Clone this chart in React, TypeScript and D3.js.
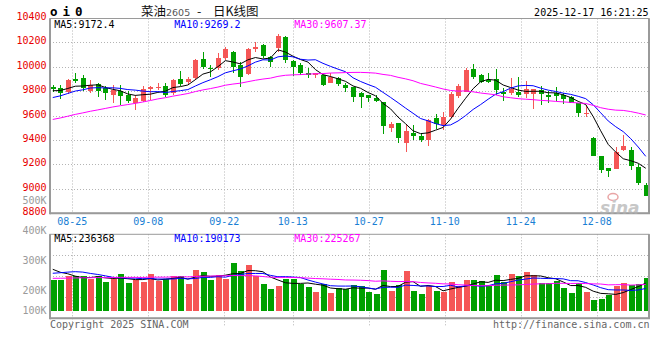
import React from "react";
import * as d3 from "d3";

const W = 660;
const H = 360;

// Trading days shown (2025)
const dates = [
  "08-20","08-21","08-22","08-25","08-26","08-27","08-28","08-29",
  "09-01","09-02","09-03","09-04","09-05","09-08","09-09","09-10","09-11","09-12",
  "09-15","09-16","09-17","09-18","09-19","09-22","09-23","09-24","09-25","09-26","09-29","09-30",
  "10-09","10-10","10-13","10-14","10-15","10-16","10-17","10-20","10-21","10-22","10-23","10-24",
  "10-27","10-28","10-29","10-30","10-31",
  "11-03","11-04","11-05","11-06","11-07","11-10","11-11","11-12","11-13","11-14",
  "11-17","11-18","11-19","11-20","11-21","11-24","11-25","11-26","11-27","11-28",
  "12-01","12-02","12-03","12-04","12-05","12-08","12-09","12-10","12-11","12-12",
  "12-15","12-16","12-17"
];

const opens = [
  9835,9824,9797,9903,9908,9805,9859,9824,9769,9802,
  9767,9704,9723,9821,9829,9843,9783,9898,9876,9906,
  10061,9988,9988,10075,10119,10015,9941,10143,10179,10078,
  10152,10247,10050,10015,9952,9935,9933,9870,9906,9851,
  9838,9788,9772,9747,9715,9502,9543,9373,9461,9434,
  9401,9581,9524,9586,9764,9797,9980,9933,9892,9900,
  9797,9788,9797,9777,9777,9810,9769,9788,9769,9750,
  9701,9619,9420,9270,9171,9163,9319,9319,9182,9032
];
const highs = [
  9851,9851,9903,9947,9936,9892,9865,9843,9851,9851,
  9805,9767,9843,9843,9870,9870,9898,9963,9919,10061,
  10119,10015,10116,10165,10125,10037,10152,10201,10185,10091,
  10269,10252,10056,10029,9988,9952,9933,9952,9919,9865,
  9838,9790,9772,9769,9715,9545,9543,9529,9524,9455,
  9570,9614,9633,9797,9859,9993,10023,9939,9952,9980,
  9824,9906,9914,9887,9816,9846,9805,9838,9788,9761,
  9701,9687,9425,9270,9171,9341,9442,9341,9204,9046
];
const lows = [
  9797,9737,9775,9865,9802,9783,9756,9728,9706,9687,
  9706,9646,9715,9728,9810,9756,9769,9843,9851,9892,
  9979,9919,9975,10056,9952,9838,9933,10124,10070,10001,
  10124,10034,9928,9933,9906,9906,9846,9865,9843,9797,
  9709,9666,9715,9715,9447,9469,9373,9300,9401,9387,
  9354,9488,9483,9578,9742,9791,9900,9865,9865,9769,
  9723,9769,9756,9742,9655,9687,9701,9720,9696,9707,
  9586,9592,9268,9133,9100,9163,9313,9155,9032,8945
];
const closes = [
  9818,9788,9895,9887,9824,9849,9805,9788,9810,9764,
  9720,9745,9816,9832,9837,9769,9892,9857,9898,10056,
  9996,9980,10072,10146,10001,9919,10146,10165,10089,10037,
  10255,10056,9996,9952,9933,9945,9851,9919,9859,9829,
  9756,9756,9747,9723,9518,9532,9420,9474,9434,9401,
  9565,9529,9586,9777,9843,9974,9920,9873,9873,9810,
  9777,9816,9769,9818,9816,9777,9756,9764,9737,9707,
  9619,9625,9272,9155,9150,9305,9352,9191,9051,8945
];
const volumes = [
  263000,263000,295000,298000,298000,268000,298000,246000,272000,315000,
  238000,263000,246000,315000,255000,272000,298000,298000,229000,349000,
  332000,263000,306000,272000,412000,340000,392000,298000,229000,186000,
  212000,272000,272000,229000,203000,160000,229000,152000,197000,183000,
  220000,212000,160000,143000,349000,169000,220000,340000,169000,143000,
  212000,169000,160000,246000,212000,263000,263000,255000,220000,306000,
  246000,315000,298000,332000,306000,238000,238000,255000,195000,152000,
  238000,160000,92000,100000,135000,212000,238000,220000,229000,283000
];

// Sessions before the first visible day, estimated from where the MA lines start
const priorCloses = [
  9430,9462,9440,9455,9450,9468,9432,9445,9460,9430,
  9455,9480,9470,9442,9475,9510,9540,9565,9580,9590,
  9650,9700,9690,9720,9700,9780,9810,9795,9815
];
const priorVolumes = [
  250000,262000,245000,270000,255000,248000,266000,240000,258000,262000,
  251000,270000,244000,259000,263000,250000,248000,262000,257000,260000,
  220000,240000,260000,335000,380000,390000,360000,400000,362000
];

const axisDates = ["08-25","09-08","09-22","10-13","10-27","11-10","11-24","12-08"];
const priceTicks = [10400,10200,10000,9800,9600,9400,9200,9000,8800];
const volTicks = [500000,400000,300000,200000,100000];
const volTickLabels = ["500K","400K","300K","200K","100K"];
const maPeriods = [5,10,30];
const maColors = ["#000000","#0000ff","#ff00ff"];
const priceMALabels = ["MA5:9172.4","MA10:9269.2","MA30:9607.37"];
const volMALabels = ["MA5:236368","MA10:190173","MA30:225267"];

const RED = "#f55656";
const GREEN = "#00a000";
const MONO = "'DejaVu Sans Mono', monospace";
const GRID = "#b4b4b4";
const FRAME = "#9a9a9a";

function movingAvg(prior: number[], vals: number[], n: number): number[] {
  const all = [...prior, ...vals];
  const np = prior.length;
  return vals.map((_, i) => d3.mean(all.slice(i + np - n + 1, i + np + 1)) as number);
}

export default function App() {
  // panels
  const pL = 50, pR = 649, pT = 18.5, pB = 213.3;
  const vT = 234.3, vB = 318.3;

  const x = d3.scaleBand<string>().domain(dates).range([49, 649.5]).padding(0);
  const cx = (d: string) => (x(d) as number) + x.bandwidth() / 2;
  const y = d3.scaleLinear().domain([8800, 10400]).range([213.3, 17.9]);
  const yv = d3.scaleLinear().domain([0, 655000]).range([310.7, 234.3]);
  const volLabelY = d3.scaleLinear().domain([0, 500000]).range([350.7, 200.7]);
  const gx = d3
    .scaleLinear()
    .domain([dates.indexOf(axisDates[0]), dates.indexOf(axisDates[axisDates.length - 1])])
    .range([72.3, 596.7]);

  const priceMA = maPeriods.map((n) => movingAvg(priorCloses, closes, n));
  const volMA = maPeriods.map((n) => movingAvg(priorVolumes, volumes, n));

  const linePrice = d3
    .line<number>()
    .x((_, i) => cx(dates[i]))
    .y((v) => y(v));
  const lineVol = d3
    .line<number>()
    .x((_, i) => cx(dates[i]))
    .y((v) => yv(v));

  const hGrid = priceTicks.slice(1, -1);
  const vGridVol = d3.range(1, 4).map((k) => vT + ((vB - vT) * k) / 4);

  return (
    <svg
      width={W}
      height={H}
      viewBox={`0 0 ${W} ${H}`}
      style={{ position: "absolute", left: 0, top: 0, background: "#fff" }}
      fontFamily={MONO}
    >
      <rect x={0} y={0} width={W} height={H} fill="#fff" />

      {/* header */}
      <text x={50} y={16} fontSize={12.5} fontWeight="bold" fill="#000" letterSpacing={-1.3}>
        o i 0
      </text>
      <text y={15.5} fontFamily="'Noto Sans CJK SC', sans-serif" fontSize={12.5} fill="#111">
        <tspan x={141}>菜油</tspan>
        <tspan x={166} fontFamily="'DejaVu Sans', sans-serif" fontSize={9.5} fill="#555">2605</tspan>
        <tspan x={197}>-</tspan>
        <tspan x={213}>日K线图</tspan>
      </text>
      <text x={648.5} y={15.5} textAnchor="end" fontSize={10} fill="#000">
        2025-12-17 16:21:25
      </text>

      {/* price grid */}
      {hGrid.map((t) => (
        <line key={"hg" + t} x1={pL} x2={pR} y1={Math.round(y(t)) + 0.5} y2={Math.round(y(t)) + 0.5}
          stroke={GRID} strokeDasharray="1,2" />
      ))}
      {axisDates.map((d) => {
        const gxp = Math.round(gx(dates.indexOf(d))) + 0.5;
        return (
          <g key={"vg" + d}>
            <line x1={gxp} x2={gxp} y1={pT} y2={pB} stroke={GRID} strokeDasharray="1,2" />
            <line x1={gxp} x2={gxp} y1={vT} y2={vB + 7} stroke={GRID} strokeDasharray="1,2" />
          </g>
        );
      })}
      {vGridVol.map((gy, k) => (
        <line key={"vv" + k} x1={pL} x2={pR} y1={Math.round(gy) + 0.5} y2={Math.round(gy) + 0.5}
          stroke={GRID} strokeDasharray="1,2" />
      ))}

      {/* price axis labels */}
      {priceTicks.map((t) => (
        <text key={"pt" + t} x={46.5} y={y(t) + 2} textAnchor="end" fontSize={10} fill="#e80000">
          {t}
        </text>
      ))}
      {volTicks.map((t, i) => (
        <text key={"vt" + t} x={46.5} y={Math.min(volLabelY(t), 310.3) + 3.6} textAnchor="end"
          fontSize={10} fill="#9a9a9a">
          {volTickLabels[i]}
        </text>
      ))}

      {/* x axis labels */}
      {axisDates.map((d) => (
        <text key={"xl" + d} x={gx(dates.indexOf(d))} y={224.8} textAnchor="middle" fontSize={10} fill="#1a7fd4">
          {d}
        </text>
      ))}

      {/* candles */}
      {dates.map((d, i) => {
        const o = opens[i], c = closes[i];
        const up = c >= o;
        const col = up ? RED : GREEN;
        const xc = Math.round(cx(d));
        const top = y(Math.max(o, c));
        const bot = y(Math.min(o, c));
        return (
          <g key={"c" + d} shapeRendering="crispEdges">
            <line x1={xc + 0.5} x2={xc + 0.5} y1={y(highs[i])} y2={y(lows[i])} stroke={col} />
            <rect x={xc - 2} y={top} width={5} height={Math.max(1, bot - top)} fill={col} />
          </g>
        );
      })}

      {/* price MAs */}
      {priceMA.map((m, k) => (
        <path key={"pm" + k} d={linePrice(m) || ""} fill="none" stroke={maColors[k]} strokeWidth={1} />
      ))}

      {/* volume bars */}
      {dates.map((d, i) => {
        const up = closes[i] >= opens[i];
        const xc = Math.round(cx(d));
        return (
          <rect key={"v" + d} x={xc - 2.5} y={yv(volumes[i])} width={6}
            height={yv(0) - yv(volumes[i])} fill={up ? RED : GREEN} shapeRendering="crispEdges" />
        );
      })}
      {volMA.map((m, k) => (
        <path key={"vm" + k} d={lineVol(m) || ""} fill="none" stroke={maColors[k]} strokeWidth={1} />
      ))}

      {/* frames */}
      <rect x={pL} y={pT} width={pR - pL} height={pB - pT} fill="none" stroke={FRAME} strokeWidth={1} />
      <line x1={pL} x2={pL} y1={pT} y2={pB + 1} stroke={FRAME} strokeWidth={2} />
      <line x1={pL} x2={pR + 1} y1={pB} y2={pB} stroke={FRAME} strokeWidth={2} />
      <line x1={pR} x2={pR} y1={pT} y2={pB} stroke={FRAME} strokeWidth={2} />
      <rect x={pL} y={vT} width={pR - pL} height={vB - vT} fill="none" stroke={FRAME} strokeWidth={1} />
      <line x1={pL} x2={pL} y1={vT} y2={vB + 1} stroke={FRAME} strokeWidth={2} />
      <line x1={pL} x2={pR + 1} y1={vB} y2={vB} stroke={FRAME} strokeWidth={2} />
      <line x1={pR} x2={pR} y1={vT} y2={vB} stroke={FRAME} strokeWidth={2} />

      {/* MA headers */}
      {priceMALabels.map((s, k) => (
        <text key={"ph" + k} x={54.3 + k * 120} y={27.6} fontSize={10} fill={maColors[k]}>
          {s}
        </text>
      ))}
      {volMALabels.map((s, k) => (
        <text key={"vh" + k} x={54.3 + k * 120} y={242} fontSize={10} fill={maColors[k]}>
          {s}
        </text>
      ))}

      {/* watermark */}
      <g opacity={0.7}>
        <ellipse cx={613} cy={197} rx={5} ry={3.5} fill="none" stroke="#e08080" strokeWidth={1.5} />
        <text x={600} y={214} fontFamily="'DejaVu Sans', sans-serif" fontSize={17} fontWeight="bold"
          fontStyle="italic" fill="#b0b0b0">
          sina
        </text>
      </g>

      {/* footer */}
      <text x={50} y={327.6} fontSize={10} fill="#666">
        Copyright 2025 SINA.COM
      </text>
      <text x={649.5} y={327.6} textAnchor="end" fontSize={10} fill="#666">
        http://finance.sina.com.cn
      </text>
    </svg>
  );
}
